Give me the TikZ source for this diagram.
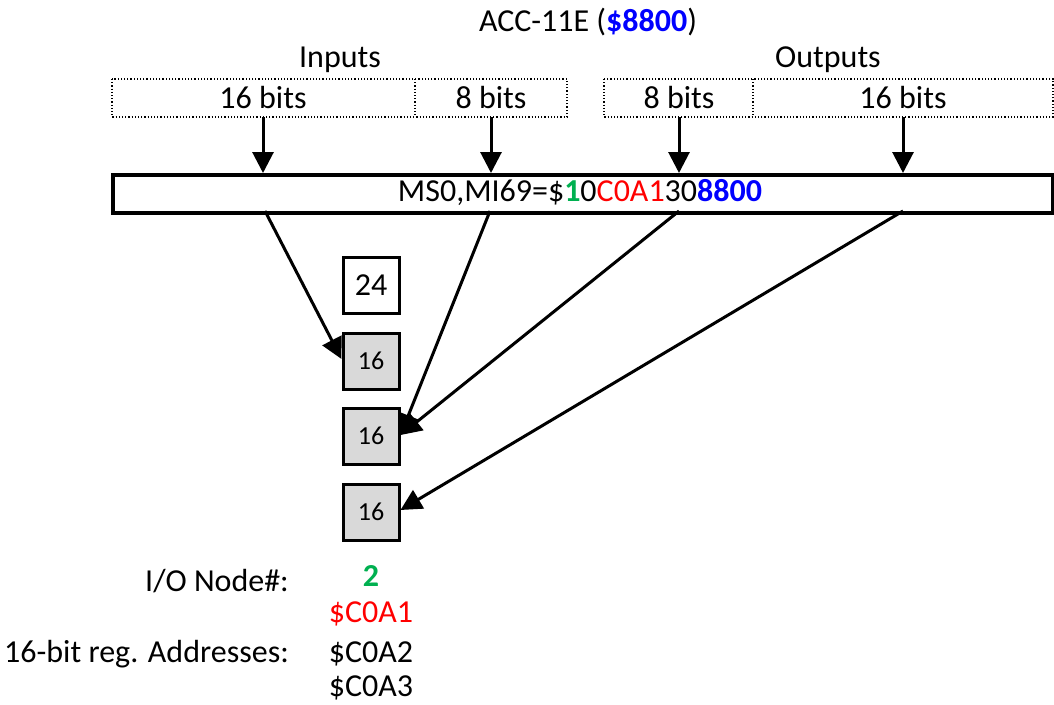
\documentclass[tikz,border=0pt]{standalone}
\usepackage{fontspec}
\setmainfont{Carlito}
\usetikzlibrary{arrows.meta}
\definecolor{grn}{HTML}{00B050}
\definecolor{rd}{HTML}{FF0000}
\definecolor{bl}{HTML}{0000FF}
\definecolor{regfill}{HTML}{D9D9D9}
\begin{document}
\begin{tikzpicture}[x=1pt,y=-1pt,
  txt/.style={inner sep=0pt,font=\fontsize{32}{38}\selectfont},
  field/.style={draw,dotted,line width=1.2pt},
  reg/.style={draw,line width=3pt,minimum width=56pt,minimum height=56pt,inner sep=0pt},
  conn/.style={line width=3pt,-{Triangle[length=21pt,width=21pt]}}]
\useasboundingbox (0,0) rectangle (1054,704);

% title and group labels
\node[txt] (title) at (588,22) {ACC-11E ({\color{bl}\bfseries\$8800})};
\node[txt] (inl) at (340,60) {Inputs};
\node[txt] (outl) at (828,60) {Outputs};

% dotted bit fields
\draw[field] (112,79) rectangle (567,117);
\draw[field] (415,79) -- (415,117);
\draw[field] (604,79) rectangle (1053,117);
\draw[field] (753,79) -- (753,117);
\node[txt] (in16) at (263,98) {16 bits};
\node[txt] (in8) at (491,98) {8 bits};
\node[txt] (out8) at (679,98) {8 bits};
\node[txt] (out16) at (903,98) {16 bits};
\coordinate (s1) at (263,117);
\coordinate (s2) at (491,117);
\coordinate (s3) at (679,117);
\coordinate (s4) at (903,117);

% command bar
\node[draw,line width=3.5pt,minimum width=940pt,minimum height=38pt,inner sep=0pt,anchor=north west] (bar) at (111,173) {};
\node[txt] (cmd) at (580,192) {MS0,MI69=\$\textcolor{grn}{\bfseries 1}0\textcolor{rd}{C0A1}30\textcolor{bl}{\bfseries 8800}};

\foreach \s/\x in {s1/263,s2/491,s3/679,s4/903}
  \draw[conn] (\s) -- (\x,173);

% registers
\node[reg,font=\fontsize{32}{38}\selectfont] (r0) at (371,285) {24};
\node[reg,fill=regfill,font=\fontsize{26}{31}\selectfont] (r1) at (371,361) {16};
\node[reg,fill=regfill,font=\fontsize{26}{31}\selectfont] (r2) at (371,436) {16};
\node[reg,fill=regfill,font=\fontsize{26}{31}\selectfont] (r3) at (371,512) {16};

\coordinate (b1) at (265,211);
\coordinate (b2) at (490,211);
\coordinate (b3) at (679,211);
\coordinate (b4) at (903,211);
\draw[conn] (b1) -- ([yshift=2pt]r1.west);
\draw[conn] (b2) -- ([yshift=1pt]r2.east);
\draw[conn] (b3) -- ([yshift=1pt]r2.east);
\draw[conn] (b4) -- ([yshift=2pt]r3.east);

% address legend
\node[txt,anchor=east] (nodel) at (289,581) {I/O Node\#:};
\node[txt,text=grn,font=\fontsize{32}{38}\selectfont\bfseries] (nodev) at (371,576) {2};
\node[txt,text=rd] (a1) at (371,614) {\$C0A1};
\node[txt,anchor=east] (addrl) at (289,654) {16-bit reg. Addresses:};
\node[txt] (a2) at (371,654) {\$C0A2};
\node[txt] (a3) at (371,688) {\$C0A3};
\end{tikzpicture}
\end{document}
